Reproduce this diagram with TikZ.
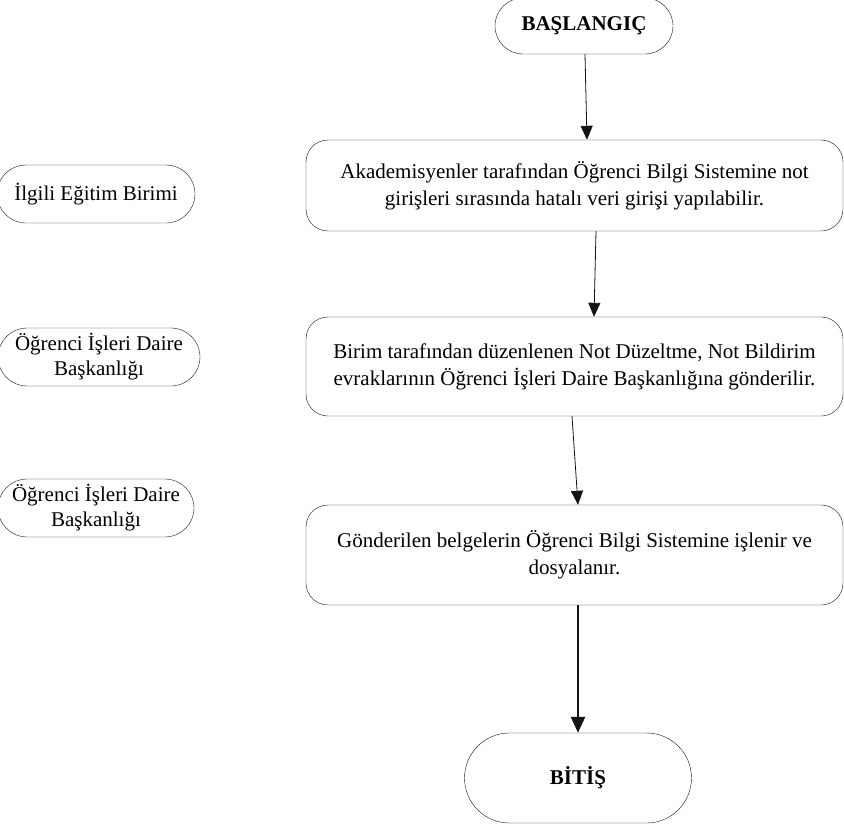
\documentclass[tikz,border=0pt]{standalone}
\usepackage{fontspec}
\setmainfont{Liberation Serif}
\usetikzlibrary{shapes.misc, arrows.meta, positioning}
\definecolor{edge}{RGB}{20, 20, 20}

\begin{document}
\begin{tikzpicture}[x=1pt, y=-1pt,
            box/.style={draw=edge, rounded corners=22pt, minimum width=537pt, minimum height=91pt, align=center, inner sep=0pt, font=\fontsize{21}{27}\selectfont},
            term/.style={draw=edge, rounded rectangle, inner sep=0pt, font=\fontsize{21}{25}\selectfont\bfseries},
            unit/.style={draw=edge, rounded rectangle, minimum width=198pt, minimum height=58pt, align=center, inner sep=0pt, font=\fontsize{21}{25}\selectfont},
            arrow/.style={-{Triangle[length=14pt, width=12pt]}, edge, line width=0.8pt}
        ]
            \useasboundingbox (0,0) rectangle (844,827);
            % main flow
            \node[term, minimum width=178pt, minimum height=56pt] (start) at (584,26) {BAŞLANGIÇ};
            \node[box] (enter) at (574.5,185.5) {Akademisyenler tarafından Öğrenci Bilgi Sistemine not\\girişleri sırasında hatalı veri girişi yapılabilir.};
            \node[box, minimum height=99pt] (send) at (574.5,366.5) {Birim tarafından düzenlenen Not Düzeltme, Not Bildirim\\evraklarının Öğrenci İşleri Daire Başkanlığına gönderilir.};
            \node[box, minimum height=100pt] (file) at (574.5,555) {Gönderilen belgelerin Öğrenci Bilgi Sistemine işlenir ve\\dosyalanır.};
            \node[term, minimum width=227pt, minimum height=90pt] (finish) at (578,778) {BİTİŞ};
            % units on the left
            \node[unit] (unitA) at (96,194) {İlgili Eğitim Birimi};
            \node[unit, minimum width=202pt] (unitB) at (99,357) {Öğrenci İşleri Daire\\Başkanlığı};
            \node[unit, minimum width=196pt] (unitC) at (96,508) {Öğrenci İşleri Daire\\Başkanlığı};

            \draw[arrow] ([xshift=1pt]start.south) -- ([xshift=12.5pt]enter.north);
            \draw[arrow] ([xshift=21.5pt]enter.south) -- ([xshift=19.5pt]send.north);
            \draw[arrow] ([xshift=-2.5pt]send.south) -- ([xshift=3.5pt]file.north);
            \draw[arrow, line width=2.5pt, -{Triangle[length=16pt, width=14pt]}] ([xshift=3.5pt]file.south) -- (finish.north);
        \end{tikzpicture}
\end{document}
